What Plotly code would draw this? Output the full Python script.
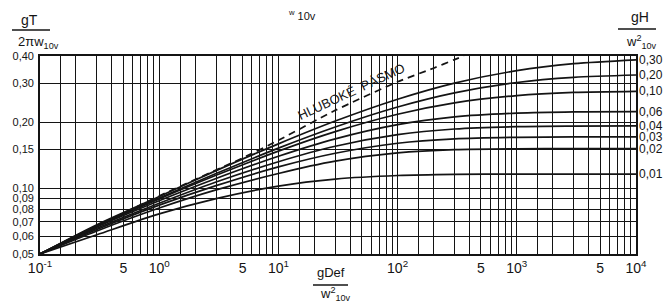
import plotly.graph_objects as go
import math

# ---- data ----
x_vals = [0.1, 0.3, 1, 3, 10, 30, 100, 300, 1000, 3000, 10000]

depth_labels = ["0,30", "0,20", "0,10", "0,06", "0,04", "0,03", "0,02", "0,01"]
y_030 = [0.050, 0.0680, 0.0915, 0.1200, 0.1590, 0.2020, 0.2540, 0.3010, 0.3430, 0.3690, 0.3843]
y_020 = [0.050, 0.0675, 0.0901, 0.1164, 0.1520, 0.1898, 0.2340, 0.2715, 0.3029, 0.3197, 0.3276]
y_010 = [0.050, 0.0670, 0.0892, 0.1143, 0.1473, 0.1808, 0.2169, 0.2444, 0.2640, 0.2728, 0.2760]
y_006 = [0.050, 0.0664, 0.0875, 0.1105, 0.1395, 0.1675, 0.1945, 0.2110, 0.2195, 0.2225, 0.2231]
y_004 = [0.050, 0.0655, 0.0852, 0.1065, 0.1318, 0.1550, 0.1750, 0.1858, 0.1905, 0.1917, 0.1920]
y_003 = [0.050, 0.0647, 0.0835, 0.1025, 0.1248, 0.1440, 0.1600, 0.1675, 0.1703, 0.1709, 0.1710]
y_002 = [0.050, 0.0637, 0.0810, 0.0980, 0.1165, 0.1325, 0.1445, 0.1495, 0.1509, 0.1512, 0.1512]
y_001 = [0.050, 0.0612, 0.0762, 0.0895, 0.1020, 0.1098, 0.1140, 0.1154, 0.1157, 0.1157, 0.1157]
series = [y_030, y_020, y_010, y_006, y_004, y_003, y_002, y_001]

deep_x = [0.1, 1, 5, 10, 30, 100, 200, 300, 360]
deep_y = [0.050, 0.092, 0.137, 0.165, 0.226, 0.305, 0.352, 0.385, 0.400]
deep_label = "HLUBOKÉ  PÁSMO"

# axis ticks / grid
x_grid_mult = [1.5, 2, 3, 4, 5, 6, 7, 8, 9]
x_decades = [-1, 0, 1, 2, 3]
x_major_vals = [0.1, 0.5, 1, 5, 10, 100, 500, 1000, 5000, 10000]
x_major_text = ["10<sup>-1</sup>", "5", "10<sup>0</sup>", "5", "10<sup>1</sup>", "10<sup>2</sup>",
                "5", "10<sup>3</sup>", "5", "10<sup>4</sup>"]
y_ticks = [0.05, 0.06, 0.07, 0.08, 0.09, 0.10, 0.15, 0.20, 0.30, 0.40]
y_ticktext = ["0,05", "0,06", "0,07", "0,08", "0,09", "0,10", "0,15", "0,20", "0,30", "0,40"]

FONT = "Liberation Sans"
INK = "#141414"

x_minor = []
for d in x_decades:
    for m in x_grid_mult:
        v = m * 10 ** d
        if not any(abs(v - u) / u < 1e-9 for u in x_major_vals):
            x_minor.append(v)

fig = go.Figure()
for ys in series:
    fig.add_trace(go.Scatter(x=x_vals, y=ys, mode="lines",
                             line=dict(color=INK, width=1.7, shape="spline", smoothing=0.8),
                             showlegend=False, hoverinfo="skip"))
fig.add_trace(go.Scatter(x=deep_x, y=deep_y, mode="lines",
                         line=dict(color=INK, width=1.7, dash="7px,5px", shape="spline", smoothing=0.6),
                         showlegend=False, hoverinfo="skip"))

# right-hand labels at curve ends
for lab, ys in zip(depth_labels, series):
    fig.add_annotation(x=math.log10(x_vals[-1]), y=math.log10(ys[-1]), xref="x", yref="y",
                       text=lab, showarrow=False, xanchor="left", yanchor="middle", xshift=1,
                       font=dict(family=FONT, size=12, color=INK))

# deep water label (sits just above the dashed line)
fig.add_annotation(x=math.log10(41), y=math.log10(0.276), xref="x", yref="y", text=deep_label,
                   showarrow=False, textangle=-25, font=dict(family=FONT, size=13, color=INK))

L, R, T, B = 40, 36, 56, 48
W, H = 672, 302
pw, ph = W - L - R, H - T - B


def px(x):
    return (x - L) / pw


def py(y):
    return (H - B - y) / ph


def txt(x, y, s, size=13, anchor="center"):
    fig.add_annotation(x=px(x), y=py(y), xref="paper", yref="paper", text=s, showarrow=False,
                       xanchor=anchor, yanchor="middle", font=dict(family=FONT, size=size, color=INK))


def hline(x0, x1, y):
    fig.add_shape(type="line", xref="paper", yref="paper", x0=px(x0), x1=px(x1), y0=py(y), y1=py(y),
                  line=dict(color=INK, width=1.3))


# left axis title  gT / 2πw10v
txt(29, 20, "gT", 14)
hline(12, 50, 30)
txt(16, 42, "2πw<sub>10v</sub>", 13, "left")
# right axis title  gH / w²10v
txt(640, 17, "gH", 14)
hline(618, 656, 29)
txt(624, 42, "w<sup>2</sup><sub>10v</sub>", 13, "left")
# bottom title  gDef / w²10v
txt(331, 272, "gDef", 13)
hline(313, 348, 285)
txt(318, 294, "w<sup>2</sup><sub>10v</sub>", 13, "left")
# stray text at top
txt(302, 15, "<sup>w</sup> 10v", 11)

fig.update_xaxes(type="log", range=[-1, 4], tickmode="array", tickvals=x_major_vals, ticktext=x_major_text,
                 showgrid=True, gridcolor=INK, gridwidth=1.4,
                 minor=dict(tickmode="array", tickvals=x_minor, showgrid=True, gridcolor=INK, gridwidth=1.4,
                            ticks=""),
                 showline=True, linecolor=INK, linewidth=1.6, mirror=True,
                 ticks="", zeroline=False, tickangle=0,
                 tickfont=dict(family=FONT, size=14, color=INK))
fig.update_yaxes(type="log", range=[math.log10(0.05), math.log10(0.40)], tickmode="array", tickvals=y_ticks,
                 ticktext=y_ticktext, showgrid=True, gridcolor=INK, gridwidth=1.4, showline=True,
                 linecolor=INK, linewidth=1.6, mirror=True, ticks="", zeroline=False,
                 ticklabelstandoff=2, tickfont=dict(family=FONT, size=11, color=INK))

fig.update_layout(width=W, height=H, margin=dict(l=L, r=R, t=T, b=B), paper_bgcolor="white",
                  plot_bgcolor="white", showlegend=False)

fig.write_html("out.html")
